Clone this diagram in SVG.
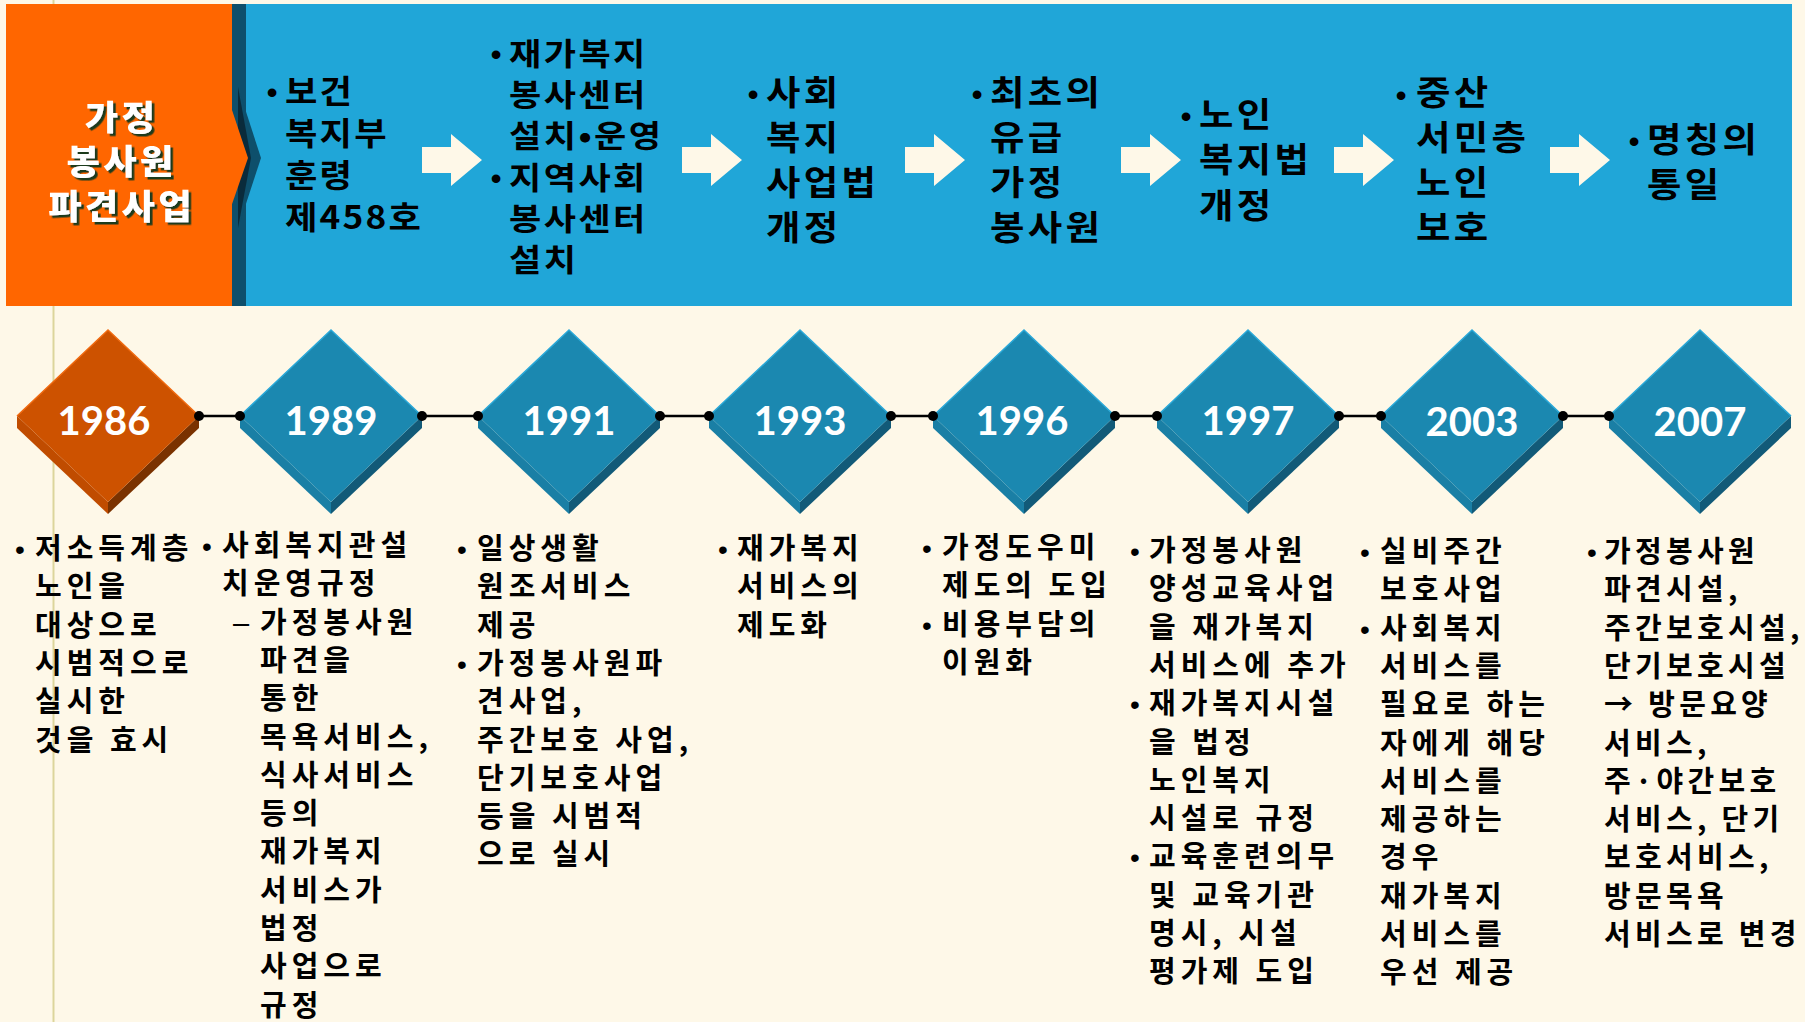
<svg xmlns="http://www.w3.org/2000/svg" width="1805" height="1022" viewBox="0 0 1805 1022">
<style>
.top{font-family:"Noto Sans CJK KR","Noto Sans",sans-serif;font-weight:700;font-size:34px;letter-spacing:3px;fill:#000}
.topS{font-family:"Noto Sans CJK KR","Noto Sans",sans-serif;font-weight:700;font-size:32px;letter-spacing:2px;fill:#000}
.topX{font-family:"Noto Sans CJK KR","Noto Sans",sans-serif;font-weight:700;font-size:31px;letter-spacing:2.2px;fill:#000}
.bot{font-family:"Noto Sans CJK KR","Noto Sans",sans-serif;font-weight:700;font-size:29px;letter-spacing:5px;fill:#000}
.botN{letter-spacing:4.3px}
.bulT{font-family:"Liberation Sans",sans-serif;font-size:32px;text-anchor:middle;fill:#000}
.bulB{font-family:"Liberation Sans",sans-serif;font-size:28px;text-anchor:middle;fill:#000}
.dash{font-family:"Liberation Sans",sans-serif;font-size:29px;fill:#000}
.yr{font-family:Lato,"Noto Sans",sans-serif;font-weight:700;font-size:40px;fill:#fff;text-anchor:middle}
.ttl{font-family:"Noto Sans CJK KR","Noto Sans",sans-serif;font-weight:900;font-size:34px;letter-spacing:3px;text-anchor:middle;fill:#fff}
.arrow{fill:#FEF8E8}
.link{stroke:#000;stroke-width:2.5}
.dot{fill:#000}
</style>
<defs>
<filter id="sh" x="-10%" y="-10%" width="130%" height="130%">
<feDropShadow dx="2.5" dy="2.5" stdDeviation="0.3" flood-color="#1C3A1C" flood-opacity="1"/>
</filter>
<g id="dblue">
<polygon points="-91,0 0,86 0,98 -91,12" fill="#1A7FA5"/>
<polygon points="91,0 0,86 0,98 91,12" fill="#125A78"/>
<polygon points="0,-86 91,0 0,86 -91,0" fill="#1B88B0"/>
<polyline points="-91,0 0,-86 91,0" fill="none" stroke="#2AA8D8" stroke-width="1.5"/>
</g>
<g id="dorange">
<polygon points="-91,0 0,86 0,98 -91,12" fill="#C04C00"/>
<polygon points="91,0 0,86 0,98 91,12" fill="#7A3200"/>
<polygon points="0,-86 91,0 0,86 -91,0" fill="#CD5200"/>
<polyline points="-91,0 0,-86 91,0" fill="none" stroke="#F06A10" stroke-width="1.5"/>
</g>
</defs>
<rect x="0" y="0" width="1805" height="1022" fill="#FEF8E8"/>
<line x1="53.5" y1="0" x2="53.5" y2="1022" stroke="#DCD59B" stroke-width="2"/>

<g id="banner">
<rect x="246" y="4" width="1546" height="302" fill="#20A6D8"/>
<rect x="232" y="4" width="14" height="302" fill="#0E4F6B"/>
<polygon points="238,87 261,158 238,228" fill="#0E4F6B"/>
<polygon points="238,87 251,158 238,228" fill="#0A2B3B"/>
<rect x="6" y="4" width="226" height="302" fill="#FF6600"/>
<polygon points="231,107 248,158 231,207" fill="#FF6600"/>
</g>

<g id="title" transform="translate(121.5,0) scale(1.07,1)">
<text class="ttl" filter="url(#sh)"><tspan x="0" y="130">가정</tspan><tspan x="0" y="174.5">봉사원</tspan><tspan x="0" y="219">파견사업</tspan></text>
</g>

<g id="stage1">
<text class="bulT" x="272" y="103">•</text>
<text class="topS" transform="translate(285,0) scale(1.1,1)"><tspan x="0" y="103">보건</tspan><tspan x="0" y="145">복지부</tspan><tspan x="0" y="187">훈령</tspan><tspan x="0" y="229">제458호</tspan></text>
</g>
<g id="stage2">
<text class="bulT" x="496" y="65">•</text>
<text class="bulT" x="496" y="189">•</text>
<text class="topX" transform="translate(509,0) scale(1.13,1)"><tspan x="0" y="65">재가복지</tspan><tspan x="0" y="106">봉사센터</tspan><tspan x="0" y="147">설치•운영</tspan><tspan x="0" y="189">지역사회</tspan><tspan x="0" y="230">봉사센터</tspan><tspan x="0" y="271">설치</tspan></text>
</g>
<g id="stage3">
<text class="bulT" x="753" y="105">•</text>
<text class="top" transform="translate(766,0) scale(1.1,1)"><tspan x="0" y="105">사회</tspan><tspan x="0" y="150">복지</tspan><tspan x="0" y="195">사업법</tspan><tspan x="0" y="240">개정</tspan></text>
</g>
<g id="stage4">
<text class="bulT" x="977" y="105">•</text>
<text class="top" transform="translate(990,0) scale(1.1,1)"><tspan x="0" y="105">최초의</tspan><tspan x="0" y="150">유급</tspan><tspan x="0" y="195">가정</tspan><tspan x="0" y="240">봉사원</tspan></text>
</g>
<g id="stage5">
<text class="bulT" x="1186" y="127">•</text>
<text class="top" transform="translate(1199,0) scale(1.1,1)"><tspan x="0" y="127">노인</tspan><tspan x="0" y="172">복지법</tspan><tspan x="0" y="218">개정</tspan></text>
</g>
<g id="stage6">
<text class="bulT" x="1401" y="105.5">•</text>
<text class="top" transform="translate(1416,0) scale(1.1,1)"><tspan x="0" y="105.5">중산</tspan><tspan x="0" y="150">서민층</tspan><tspan x="0" y="195">노인</tspan><tspan x="0" y="240">보호</tspan></text>
</g>
<g id="stage7">
<text class="bulT" x="1634" y="152">•</text>
<text class="top" transform="translate(1647,0) scale(1.1,1)"><tspan x="0" y="152">명칭의</tspan><tspan x="0" y="197">통일</tspan></text>
</g>

<g id="connectors">
<polygon class="arrow" points="422,147 451,147 451,134 482,160 451,186 451,173 422,173"/>
<polygon class="arrow" points="682,147 711,147 711,134 742,160 711,186 711,173 682,173"/>
<polygon class="arrow" points="905,147 934,147 934,134 965,160 934,186 934,173 905,173"/>
<polygon class="arrow" points="1121,147 1150,147 1150,134 1181,160 1150,186 1150,173 1121,173"/>
<polygon class="arrow" points="1334,147 1363,147 1363,134 1394,160 1363,186 1363,173 1334,173"/>
<polygon class="arrow" points="1550,147 1579,147 1579,134 1610,160 1579,186 1579,173 1550,173"/>
<line class="link" x1="199" y1="416" x2="240" y2="416"/>
<line class="link" x1="422" y1="416" x2="478" y2="416"/>
<line class="link" x1="660" y1="416" x2="709" y2="416"/>
<line class="link" x1="891" y1="416" x2="933" y2="416"/>
<line class="link" x1="1115" y1="416" x2="1157" y2="416"/>
<line class="link" x1="1339" y1="416" x2="1381" y2="416"/>
<line class="link" x1="1563" y1="416" x2="1609" y2="416"/>
</g>

<g id="y1986" transform="translate(108,416)"><use href="#dorange"/><text class="yr" x="-4" y="19">1986</text></g>
<g id="y1989" transform="translate(331,416)"><use href="#dblue"/><text class="yr" x="0" y="19">1989</text></g>
<g id="y1991" transform="translate(569,416)"><use href="#dblue"/><text class="yr" x="0" y="19">1991</text></g>
<g id="y1993" transform="translate(800,416)"><use href="#dblue"/><text class="yr" x="0" y="19">1993</text></g>
<g id="y1996" transform="translate(1024,416)"><use href="#dblue"/><text class="yr" x="-2" y="19">1996</text></g>
<g id="y1997" transform="translate(1248,416)"><use href="#dblue"/><text class="yr" x="0" y="19">1997</text></g>
<g id="y2003" transform="translate(1472,416)"><use href="#dblue"/><text class="yr" x="0" y="20">2003</text></g>
<g id="y2007" transform="translate(1700,416)"><use href="#dblue"/><text class="yr" x="0" y="20">2007</text></g>

<g id="dots">
<circle class="dot" cx="199" cy="416" r="5"/><circle class="dot" cx="240" cy="416" r="5"/>
<circle class="dot" cx="422" cy="416" r="5"/><circle class="dot" cx="478" cy="416" r="5"/>
<circle class="dot" cx="660" cy="416" r="5"/><circle class="dot" cx="709" cy="416" r="5"/>
<circle class="dot" cx="891" cy="416" r="5"/><circle class="dot" cx="933" cy="416" r="5"/>
<circle class="dot" cx="1115" cy="416" r="5"/><circle class="dot" cx="1157" cy="416" r="5"/>
<circle class="dot" cx="1339" cy="416" r="5"/><circle class="dot" cx="1381" cy="416" r="5"/>
<circle class="dot" cx="1563" cy="416" r="5"/><circle class="dot" cx="1609" cy="416" r="5"/>
</g>

<g id="desc1986">
<text class="bulB" x="20" y="559">•</text>
<text class="bot"><tspan x="35" y="559">저소득계층</tspan><tspan x="35" y="597.3">노인을</tspan><tspan x="35" y="635.6">대상으로</tspan><tspan x="35" y="673.9">시범적으로</tspan><tspan x="35" y="712.2">실시한</tspan><tspan x="35" y="750.5">것을 효시</tspan></text>
</g>
<g id="desc1989">
<text class="bulB" x="207" y="556">•</text>
<text class="dash" x="233" y="632.6">–</text>
<text class="bot"><tspan x="222" y="556">사회복지관설</tspan><tspan x="222" y="594.3">치운영규정</tspan><tspan x="260" y="632.6">가정봉사원</tspan><tspan x="260" y="670.9">파견을</tspan><tspan x="260" y="709.2">통한</tspan><tspan x="260" y="747.5">목욕서비스,</tspan><tspan x="260" y="785.8">식사서비스</tspan><tspan x="260" y="824.1">등의</tspan><tspan x="260" y="862.4">재가복지</tspan><tspan x="260" y="900.7">서비스가</tspan><tspan x="260" y="939">법정</tspan><tspan x="260" y="977.3">사업으로</tspan><tspan x="260" y="1015.6">규정</tspan></text>
</g>
<g id="desc1991">
<text class="bulB" x="462" y="559">•</text>
<text class="bulB" x="462" y="673.9">•</text>
<text class="bot"><tspan x="477" y="559">일상생활</tspan><tspan x="477" y="597.3">원조서비스</tspan><tspan x="477" y="635.6">제공</tspan><tspan x="477" y="673.9">가정봉사원파</tspan><tspan x="477" y="712.2">견사업,</tspan><tspan x="477" y="750.5">주간보호 사업,</tspan><tspan x="477" y="788.8">단기보호사업</tspan><tspan x="477" y="827.1">등을 시범적</tspan><tspan x="477" y="865.4">으로 실시</tspan></text>
</g>
<g id="desc1993">
<text class="bulB" x="723" y="559">•</text>
<text class="bot"><tspan x="737" y="559">재가복지</tspan><tspan x="737" y="597.3">서비스의</tspan><tspan x="737" y="635.6">제도화</tspan></text>
</g>
<g id="desc1996">
<text class="bulB" x="927" y="558">•</text>
<text class="bulB" x="927" y="634.6">•</text>
<text class="bot"><tspan x="942" y="558">가정도우미</tspan><tspan x="942" y="596.3">제도의 도입</tspan><tspan x="942" y="634.6">비용부담의</tspan><tspan x="942" y="672.9">이원화</tspan></text>
</g>
<g id="desc1997">
<text class="bulB" x="1135" y="561">•</text>
<text class="bulB" x="1135" y="714.2">•</text>
<text class="bulB" x="1135" y="867.4">•</text>
<text class="bot"><tspan x="1149" y="561">가정봉사원</tspan><tspan x="1149" y="599.3">양성교육사업</tspan><tspan x="1149" y="637.6">을 재가복지</tspan><tspan x="1149" y="675.9">서비스에 추가</tspan><tspan x="1149" y="714.2">재가복지시설</tspan><tspan x="1149" y="752.5">을 법정</tspan><tspan x="1149" y="790.8">노인복지</tspan><tspan x="1149" y="829.1">시설로 규정</tspan><tspan x="1149" y="867.4">교육훈련의무</tspan><tspan x="1149" y="905.7">및 교육기관</tspan><tspan x="1149" y="944">명시, 시설</tspan><tspan x="1149" y="982.3">평가제 도입</tspan></text>
</g>
<g id="desc2003">
<text class="bulB" x="1365" y="562">•</text>
<text class="bulB" x="1365" y="638.6">•</text>
<text class="bot"><tspan x="1380" y="562">실비주간</tspan><tspan x="1380" y="600.3">보호사업</tspan><tspan x="1380" y="638.6">사회복지</tspan><tspan x="1380" y="676.9">서비스를</tspan><tspan x="1380" y="715.2">필요로 하는</tspan><tspan x="1380" y="753.5">자에게 해당</tspan><tspan x="1380" y="791.8">서비스를</tspan><tspan x="1380" y="830.1">제공하는</tspan><tspan x="1380" y="868.4">경우</tspan><tspan x="1380" y="906.7">재가복지</tspan><tspan x="1380" y="945">서비스를</tspan><tspan x="1380" y="983.3">우선 제공</tspan></text>
</g>
<g id="desc2007">
<text class="bulB" x="1592" y="562">•</text>
<text class="bot botN"><tspan x="1604" y="562">가정봉사원</tspan><tspan x="1604" y="600.3">파견시설,</tspan><tspan x="1604" y="638.6">주간보호시설,</tspan><tspan x="1604" y="676.9">단기보호시설</tspan><tspan x="1604" y="715.2">→ 방문요양</tspan><tspan x="1604" y="753.5">서비스,</tspan><tspan x="1604" y="791.8">주·야간보호</tspan><tspan x="1604" y="830.1">서비스, 단기</tspan><tspan x="1604" y="868.4">보호서비스,</tspan><tspan x="1604" y="906.7">방문목욕</tspan><tspan x="1604" y="945">서비스로 변경</tspan></text>
</g>
</svg>
